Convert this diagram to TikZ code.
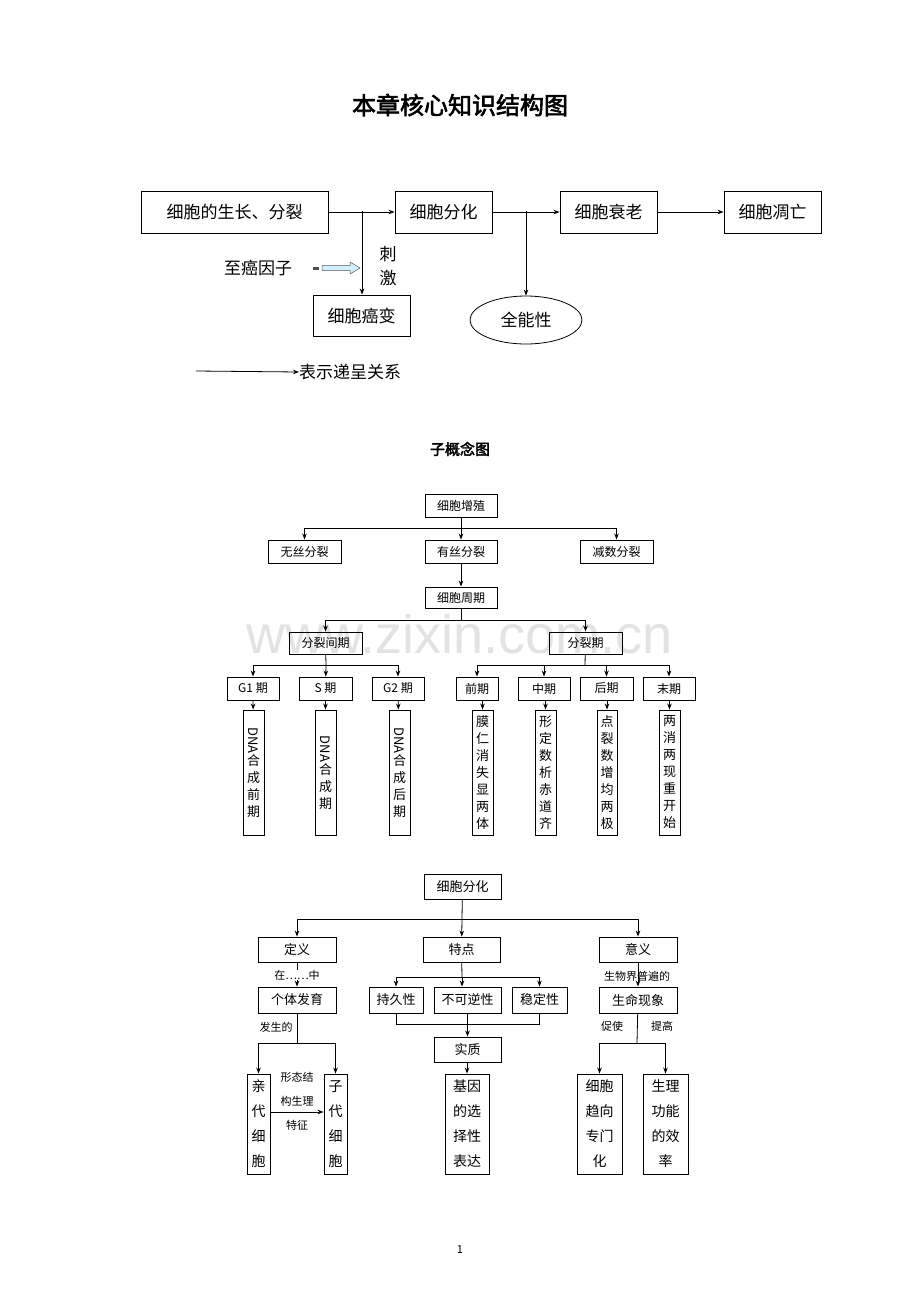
\documentclass[tikz,border=0pt]{standalone}
\usepackage{fontspec}
\setmainfont{Noto Sans CJK SC}
\newfontfamily\cjkbold{Noto Sans CJK SC}[FakeBold=2.5]
\newfontfamily\wmfont{Liberation Sans}
\usetikzlibrary{arrows.meta,shapes.geometric}
\newcommand\bx[7][]{\node[box,#1,minimum width={(#5-#3)*1pt},minimum height={(#6-#4)*1pt}] (#2) at ({(#3+#5)/2},{(#4+#6)/2}) {#7};}
\begin{document}
\begin{tikzpicture}[x=1pt,y=-1pt,
  box/.style={draw,line width=0.9pt,inner sep=0pt,align=center},
  ln/.style={line width=0.8pt},
  ar/.style={ln,-{Stealth[length=6pt,width=4.5pt]}},
  big/.style={font=\fontsize{17}{20}\selectfont},
  mid/.style={font=\fontsize{12}{14}\selectfont},
  vt/.style={font=\fontsize{13}{17}\selectfont},
  bt/.style={font=\fontsize{13}{16}\selectfont},
  bv/.style={font=\fontsize{14}{25}\selectfont},
  lab/.style={font=\fontsize{11}{13}\selectfont,inner sep=0pt}]
\useasboundingbox (0,0) rectangle (920,1302);
\fill[white] (0,0) rectangle (920,1302);
% watermark
\node[text=gray!22,font=\wmfont\fontsize{54}{60}\selectfont] (wm) at (460,634) {www.zixin.com.cn};
% title
\node[font=\cjkbold\fontsize{24}{28}\selectfont] (title) at (460,105) {本章核心知识结构图};
% top section
\bx[big]{a}{141}{191}{328}{233}{细胞的生长、分裂}
\bx[big]{b}{395}{191}{492}{233}{细胞分化}
\bx[big]{c}{560}{191}{657}{233}{细胞衰老}
\bx[big]{d}{724}{191}{821}{233}{细胞凋亡}
\bx[big]{e}{313}{295}{410}{336}{细胞癌变}
\node[draw,ellipse,line width=0.8pt,minimum width=112pt,minimum height=48pt,inner sep=0pt,big] (f) at (526,320) {全能性};
\draw[ar] (a) -- (b);
\draw[ar] (b) -- (c);
\draw[ar] (c) -- (d);
\coordinate (ja) at (362,211);
\coordinate (jb) at (526,211);
\draw[ar] (ja) -- (ja |- e.north);
\draw[ar] (jb) -- (f.north);
\node[big,align=center,inner sep=0pt] (cj) at (388,266) {刺\\[4pt]激};
\node[big,inner sep=0pt] (zai) at (258,268) {至癌因子};
\draw[gray!70!black,fill=cyan!18,line width=0.5pt] (322,265.5) -- (350,265.5) -- (350,262) -- (360,268) -- (350,274) -- (350,270.5) -- (322,270.5) -- cycle;
\fill[gray!60!black] (313,266.5) rectangle (319,269.5);
\coordinate (lg) at (196,371);
\node[big,anchor=west,inner sep=0pt] (lgt) at (299,372) {表示递呈关系};
\draw[ar] (lg) -- (lgt.west);
% sub concept map
\node[font=\cjkbold\fontsize{15}{18}\selectfont] (sub) at (460,449) {子概念图};
% middle tree
\bx[mid]{zz}{425}{494}{497}{517}{细胞增殖}
\bx[mid]{wf}{268}{540}{341}{563}{无丝分裂}
\bx[mid]{yf}{425}{540}{497}{563}{有丝分裂}
\bx[mid]{jf}{580}{540}{653}{563}{减数分裂}
\bx[mid]{zq}{425}{587}{497}{608}{细胞周期}
\bx[mid]{jq}{289}{632}{362}{654}{分裂间期}
\bx[mid]{fq}{549}{632}{622}{654}{分裂期}
\bx[mid]{g1}{227}{677}{279}{700}{G1 期}
\bx[mid]{sq}{299}{677}{352}{700}{S 期}
\bx[mid]{g2}{372}{677}{424}{700}{G2 期}
\bx[mid]{qq}{456}{677}{498}{700}{前期}
\bx[mid]{zh}{518}{677}{570}{700}{中期}
\bx[mid]{hq}{580}{677}{633}{700}{后期}
\bx[mid]{mq}{643}{677}{695}{700}{末期}
\bx[vt]{v1}{243}{710}{264}{835}{\rotatebox{-90}{DNA}\\合\\成\\前\\期}
\bx[vt]{v2}{315}{710}{336}{835}{\rotatebox{-90}{DNA}\\合\\成\\期}
\bx[vt]{v3}{389}{710}{410}{835}{\rotatebox{-90}{DNA}\\合\\成\\后\\期}
\bx[vt]{v4}{472}{710}{493}{835}{膜\\仁\\消\\失\\显\\两\\体}
\bx[vt]{v5}{535}{710}{556}{835}{形\\定\\数\\析\\赤\\道\\齐}
\bx[vt]{v6}{597}{710}{617}{835}{点\\裂\\数\\增\\均\\两\\极}
\bx[vt]{v7}{659}{710}{680}{835}{两\\消\\两\\现\\重\\开\\始}
\coordinate (m1) at (461,528);
\draw[ln] (zz) -- (m1);
\draw[ar] (m1) -| (wf);
\draw[ar] (m1) -| (jf);
\draw[ar] (m1) -- (yf);
\draw[ar] (yf) -- (zq);
\coordinate (m2) at (461,620);
\draw[ln] (zq) -- (m2);
\draw[ar] (m2) -| (jq);
\draw[ar] (m2) -| (fq);
\coordinate (m3) at (326,665);
\draw[ln] (jq) -- (m3);
\draw[ar] (m3) -| (g1);
\draw[ar] (m3) -| (g2);
\draw[ar] (m3) -- (sq);
\coordinate (m4) at (585,665);
\draw[ln] (fq) -- (m4);
\draw[ar] (m4) -| (qq);
\draw[ar] (m4) -| (zh);
\draw[ar] (m4) -| (hq);
\draw[ar] (m4) -| (mq);
\draw[ar] (g1) -- (v1);
\draw[ar] (sq) -- (v2);
\draw[ar] (g2) -- (v3);
\draw[ar] (qq.south -| v4) -- (v4);
\draw[ar] (zh.south -| v5) -- (v5);
\draw[ar] (hq.south -| v6) -- (v6);
\draw[ar] (mq.south -| v7) -- (v7);
% bottom tree
\bx[bt]{fh}{424}{874}{501}{899}{细胞分化}
\bx[bt]{dy}{258}{937}{336}{962}{定义}
\bx[bt]{td}{423}{937}{500}{962}{特点}
\bx[bt]{yy}{599}{937}{677}{962}{意义}
\bx[bt]{gt}{258}{987}{336}{1013}{个体发育}
\bx[bt]{cj2}{369}{987}{423}{1013}{持久性}
\bx[bt]{bk}{434}{987}{501}{1013}{不可逆性}
\bx[bt]{wd}{512}{987}{567}{1013}{稳定性}
\bx[bt]{sz}{434}{1037}{501}{1062}{实质}
\bx[bt]{sm}{599}{987}{677}{1013}{生命现象}
\bx[bv]{qd}{247}{1074}{270}{1174}{亲\\代\\细\\胞}
\bx[bv]{zd}{324}{1074}{347}{1174}{子\\代\\细\\胞}
\bx[bv]{jy}{445}{1074}{489}{1174}{基因\\的选\\择性\\表达}
\bx[bv]{qx}{577}{1074}{622}{1174}{细胞\\趋向\\专门\\化}
\bx[bv]{sl}{643}{1074}{688}{1174}{生理\\功能\\的效\\率}
\coordinate (n1) at (462,919);
\draw[ln] (fh) -- (n1);
\draw[ar] (n1) -| (dy);
\draw[ar] (n1) -| (yy);
\draw[ar] (n1) -- (td);
\draw[ar] (dy) -- (gt);
\node[lab,fill=white] (l1) at (297,975) {在……中};
\coordinate (n2) at (297,1043);
\draw[ln] (gt) -- (n2);
\draw[ar] (n2) -| (qd);
\draw[ar] (n2) -| (zd);
\node[lab] (l2) at (276,1027) {发生的};
\coordinate (pa) at (270,1112);
\draw[ar] (pa) -- (pa -| zd.west);
\node[lab,align=center,font=\fontsize{11}{24}\selectfont] (l3) at (297,1101) {形态结\\构生理\\特征};
\coordinate (n3) at (462,977);
\draw[ln] (td) -- (n3);
\draw[ar] (n3) -| (cj2);
\draw[ar] (n3) -| (wd);
\draw[ar] (n3) -- (bk.north -| n3);
\coordinate (n4) at (467,1024);
\draw[ln] (cj2) |- (n4);
\draw[ln] (wd) |- (n4);
\draw[ar] (bk) -- (sz);
\draw[ar] (sz.south -| jy) -- (jy);
\draw[ar] (yy) -- (sm);
\node[lab] (l4) at (637,976) {生物界普遍的};
\coordinate (n5) at (637,1043);
\draw[ln] (sm) -- (n5);
\draw[ar] (n5) -| (qx);
\draw[ar] (n5) -| (sl);
\node[lab] (l5) at (612,1026) {促使};
\node[lab] (l6) at (662,1026) {提高};
\node[font=\fontsize{11}{13}\selectfont] (pg) at (460,1250) {1};
\end{tikzpicture}
\end{document}
